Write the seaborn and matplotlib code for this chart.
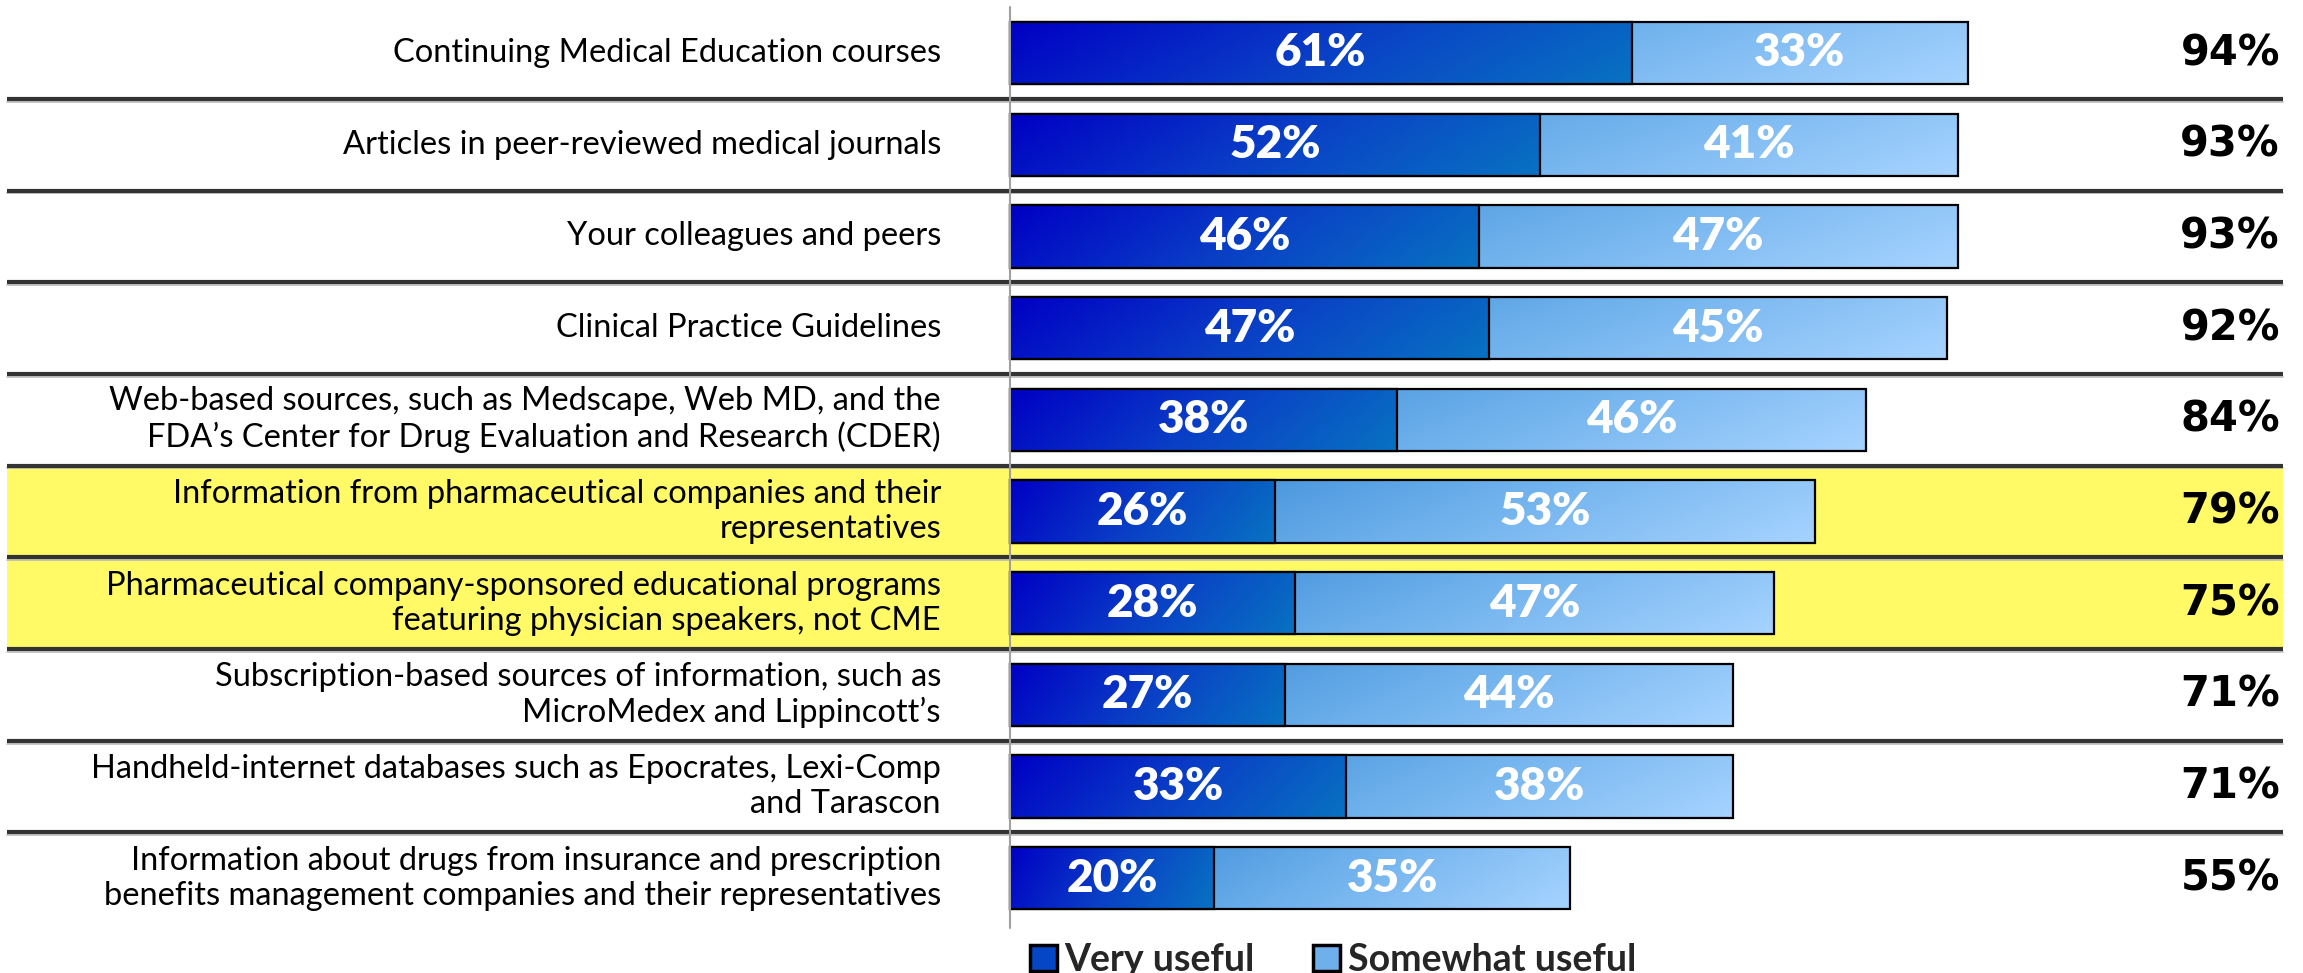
import numpy as np
import pandas as pd
import matplotlib
matplotlib.use('Agg')
import matplotlib.pyplot as plt
from matplotlib.colors import LinearSegmentedColormap
from matplotlib.patches import Patch
import seaborn as sns

# data
sources = [
    'Continuing Medical Education courses',
    'Articles in peer-reviewed medical journals',
    'Your colleagues and peers',
    'Clinical Practice Guidelines',
    'Web-based sources, such as Medscape, Web MD, and the\nFDA\u2019s Center for Drug Evaluation and Research (CDER)',
    'Information from pharmaceutical companies and their\nrepresentatives',
    'Pharmaceutical company-sponsored educational programs\nfeaturing physician speakers, not CME',
    'Subscription-based sources of information, such as\nMicroMedex and Lippincott\u2019s',
    'Handheld-internet databases such as Epocrates, Lexi-Comp\nand Tarascon',
    'Information about drugs from insurance and prescription\nbenefits management companies and their representatives',
]
very_useful = [61, 52, 46, 47, 38, 26, 28, 27, 33, 20]
somewhat_useful = [33, 41, 47, 45, 46, 53, 47, 44, 38, 35]
highlighted = [5, 6]

df = pd.DataFrame({'source': sources, 'very': very_useful, 'somewhat': somewhat_useful})
df['total'] = df['very'] + df['somewhat']

sns.set_theme(style='white')
plt.rcParams['font.family'] = ['Lato', 'DejaVu Sans']

W, H = 2303, 973
fig = plt.figure(figsize=(W / 100, H / 100), dpi=100)
ax = fig.add_axes([0, 0, 1, 1])

px_per_pct = 10.19
x0_px = 1010
row_px = 91.7
row0_px = 53
xmin, xmax = -x0_px / px_per_pct, (W - x0_px) / px_per_pct
ymin, ymax = (H - row0_px) / row_px, -row0_px / row_px

def px_x(p):
    return (p - x0_px) / px_per_pct

# yellow highlight rows
for i in highlighted:
    ax.fill_between([px_x(7), px_x(2283)], i - 0.5, i + 0.5, color='#FFFA66', zorder=0, lw=0)

# stacked bars: totals (light) first, then the dark part on top
sns.barplot(data=df, y='source', x='total', orient='h', color='#7FB7EE', width=0.68,
            edgecolor='black', linewidth=1.6, ax=ax, zorder=2)
n_light = len(ax.patches)
sns.barplot(data=df, y='source', x='very', orient='h', color='#0040C8', width=0.68,
            edgecolor='black', linewidth=1.6, ax=ax, zorder=4)

light_cmap = LinearSegmentedColormap.from_list('light', ['#2B7DCE', '#68ADEA', '#A6D3FF'])
dark_cmap = LinearSegmentedColormap.from_list('dark', ['#0000C4', '#0A3FC6', '#0872C2'])

gx, gy = np.meshgrid(np.linspace(0, 1, 200), np.linspace(0, 1, 20))
grad = 0.85 * gx + 0.15 * gy
for k, p in enumerate(ax.patches):
    bx, by, bw, bh = p.get_x(), p.get_y(), p.get_width(), p.get_height()
    light = k < n_light
    z = p.get_zorder()
    im = ax.imshow(grad, extent=[bx, bx + bw, by + bh, by], cmap=light_cmap if light else dark_cmap,
                   aspect='auto', interpolation='bilinear', zorder=z - 0.5)
    im.set_clip_path(p)
    p.set_facecolor('none')

# row separators
for i in range(len(sources) - 1):
    ax.plot([px_x(7), px_x(2283)], [i + 0.5, i + 0.5], color='#333333', lw=3, zorder=1,
            solid_capstyle='butt')
    ax.plot([px_x(7), px_x(2283)], [i + 0.53, i + 0.53], color='#BBBBBB', lw=1.2, zorder=0.9)

# vertical axis line
ax.plot([0, 0], [(7 - row0_px) / row_px, (928 - row0_px) / row_px], color='#A0A0A0', lw=1.5, zorder=5)

# text
for i, r in df.iterrows():
    ax.text(px_x(941), i, r['source'], ha='right', va='center', fontsize=23.5,
            color='black', linespacing=1.2, zorder=6)
    ax.text(r['very'] / 2, i, f"{r['very']}%", ha='center', va='center', fontsize=33,
            fontweight='heavy', color='white', zorder=6)
    ax.text(r['very'] + r['somewhat'] / 2, i, f"{r['somewhat']}%", ha='center', va='center',
            fontsize=33, fontweight='heavy', color='white', zorder=6)
    ax.text(px_x(2280), i, f"{r['total']}%", ha='right', va='center', fontsize=30,
            fontweight='bold', color='black', family='DejaVu Sans', zorder=6)

handles = [Patch(facecolor='#0446C6', edgecolor='black', lw=2.5, label='Very useful'),
           Patch(facecolor='#6FB0EC', edgecolor='black', lw=2.5, label='Somewhat useful')]
leg = ax.legend(handles=handles, loc='center left', bbox_to_anchor=(1030 / W, 1 - 960 / H),
                ncol=2, frameon=False, fontsize=27, handlelength=0.72, handleheight=0.72,
                handletextpad=0.2, columnspacing=1.55, borderaxespad=0, borderpad=0)
for t in leg.get_texts():
    t.set_fontweight('bold')

ax.set_xlim(xmin, xmax)
ax.set_ylim(ymin, ymax)
ax.axis('off')

fig.savefig('out.png', dpi=100)
